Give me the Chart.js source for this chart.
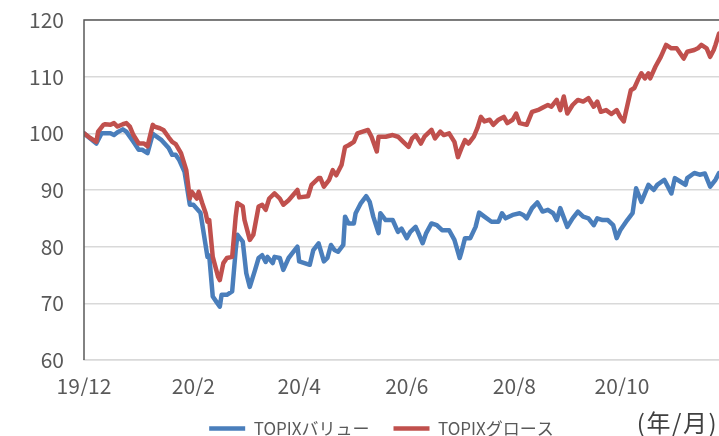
<!DOCTYPE html>
<html>
<head>
<meta charset="utf-8">
<script src="https://cdn.jsdelivr.net/npm/chart.js@4/dist/chart.umd.min.js"></script>
<style>
  html, body { margin:0; padding:0; background:#fff; }
  #wrap { width:719px; height:436px; }
</style>
</head>
<body>
<div id="wrap"><canvas id="chart"></canvas></div>
<script>
// days counted from 2019/12/01
const valueDays = [0,3,7,10,12,15,17,19,22,24, 28,31,33,36,39,44,48,50,52,54,
  57,60,62,66,70,71,73,75,77,78, 81,84,86,87,90,92,94,97,99,101,
  103,104,107,108,111,113,116,118,121,122, 128,130,133,136,138,140,142,144,147,148,
  150,153,154,157,160,162,164,167,168,171, 175,178,180,183,185,188,190,192,194,197,
  200,203,207,210,213,214,216,219,222,224, 227,231,235,237,239,243,247,249,251,254,
  257,260,263,266,268,270,274,277,280,283, 286,289,291,294,297,300,302,304,308,311,
  313,316,318,320,323,325,329,333,335,338, 341,342,346,349,352,355,358,360];
const valueIdx = [100.0,99.2,98.2,100.0,100.0,100.0,99.7,100.2,100.7,100.3,
  98.5,97.1,97.1,96.5,99.9,98.8,97.4,96.2,96.2,95.3,
  93.2,87.4,87.4,86.0,78.2,78.4,71.2,70.3,69.4,71.5,
  71.5,72.1,79.4,82.1,80.9,75.3,72.9,75.9,78.0,78.5,
  77.3,78.2,77.1,78.2,78.0,75.9,78.0,78.8,80.0,77.4,
  76.8,79.4,80.6,77.4,78.0,80.3,79.4,79.1,80.3,85.3,
  84.1,84.1,85.9,87.7,88.9,87.9,85.3,82.4,85.9,84.7,
  84.7,82.6,83.2,81.5,82.6,83.5,82.1,80.6,82.4,84.1,
  83.8,82.9,82.9,81.2,78.0,79.1,81.5,81.5,83.5,86.0,
  85.3,84.4,84.4,85.9,85.0,85.6,85.9,85.6,85.0,86.8,
  87.8,86.2,86.5,85.9,84.7,86.8,83.5,85.0,86.2,85.3,
  85.0,83.8,85.0,84.7,84.7,83.8,81.5,82.9,84.7,85.9,
  90.3,87.9,89.4,90.9,90.0,90.9,91.8,89.4,92.1,91.5,
  90.9,92.1,93.0,92.7,92.9,90.6,91.8,93.0];

const growthDays = [0,3,7,8,11,12,15,17,19,22, 24,26,28,31,34,36,39,40,43,45,
  48,50,52,55,58,60,61,64,65,67, 69,70,71,73,76,77,79,81,84,86,
  87,90,91,94,96,99,101,103,105,108, 111,113,116,121,122,127,129,133,134,136,
  139,141,143,146,148,150,153,155,158,161, 163,166,167,171,175,178,181,184,186,188,
  191,193,197,199,202,204,207,210,212,214, 216,218,221,223,225,227,230,232,235,238,
  240,243,245,247,251,254,258,261,263,265, 268,270,272,274,277,280,283,286,289,291,
  293,296,299,302,304,306,307,310,312,314, 316,318,320,321,324,327,330,333,336,340,
  342,346,348,350,353,355,357,358,360];
const growthIdx = [100.0,99.3,98.5,100.3,101.5,101.6,101.5,101.8,101.2,101.6,
  101.8,101.2,99.7,98.2,98.2,97.7,101.5,101.2,100.9,100.6,
  99.3,98.5,98.1,96.5,93.5,88.5,89.7,88.5,89.7,87.7,
  85.9,84.4,84.7,78.2,74.7,74.1,77.1,78.0,78.2,85.3,
  87.7,87.1,84.7,81.2,82.1,87.1,87.4,86.5,88.5,89.4,
  88.5,87.4,88.2,90.0,88.7,88.9,90.9,92.1,92.1,90.6,
  91.8,93.5,92.6,94.4,97.6,97.9,98.5,100.0,100.3,100.6,
  99.4,96.8,99.4,99.4,99.7,99.4,98.5,97.6,99.1,99.7,
  98.2,99.4,100.6,99.1,100.3,99.7,100.0,98.5,95.8,97.4,
  98.8,98.2,99.4,100.9,102.9,102.1,102.4,101.5,102.4,102.9,
  101.8,102.4,103.5,101.8,101.5,103.8,104.2,104.7,105.0,104.7,
  105.9,104.1,106.5,103.5,105.0,105.9,105.6,106.2,104.7,105.6,
  103.8,104.1,103.4,104.1,102.9,102.1,103.5,107.6,108.0,109.4,
  110.6,109.7,110.6,109.7,111.8,113.5,115.6,115.0,115.0,113.2,
  114.4,114.7,115.0,115.6,115.0,113.5,114.7,115.6,117.6];

const tickDays = [0, 62, 122, 183, 244, 305];
const tickLabels = ['19/12', '20/2', '20/4', '20/6', '20/8', '20/10'];
const seriesNames = ['TOPIXバリュー', 'TOPIXグロース'];
const unitLabel = '(年/月)';

const FONT = "'Noto Sans CJK JP', 'Noto Sans', sans-serif";
const TEXT = '#595959';

const pts = (xs, ys) => xs.map((d, i) => ({ x: d, y: ys[i] }));

const framePlugin = {
    id: 'frame',
    afterLayout(chart) {
        // legend sits a bit right of the canvas centre
        chart.legend.left += 22;
        chart.legend.right += 22;
    },
    afterDatasetsDraw(chart) {
        const { ctx, chartArea: a } = chart;
        ctx.save();
        ctx.strokeStyle = '#595959';
        ctx.lineWidth = 1.5;
        ctx.beginPath();
        ctx.moveTo(a.left, a.bottom);
        ctx.lineTo(a.left, a.top);
        ctx.lineTo(a.right, a.top);
        ctx.stroke();
        ctx.restore();
    },
    afterDraw(chart) {
        const { ctx } = chart;
        ctx.save();
        ctx.fillStyle = '#404040';
        ctx.font = '24px ' + FONT;
        ctx.letterSpacing = '1.5px';
        ctx.textAlign = 'right';
        ctx.textBaseline = 'middle';
        ctx.fillText(unitLabel, 718, 423);
        ctx.restore();
    }
};

new Chart(document.getElementById('chart'), {
    type: 'line',
    data: {
        datasets: [
            { label: seriesNames[0], data: pts(valueDays, valueIdx), borderColor: '#4a7ebb', backgroundColor: '#4a7ebb', borderWidth: 4.5, order: 1 },
            { label: seriesNames[1], data: pts(growthDays, growthIdx), borderColor: '#c0504d', backgroundColor: '#c0504d', borderWidth: 4.5, order: 0 }
        ]
    },
    options: {
        responsive: true,
        maintainAspectRatio: false,
        animation: false,
        devicePixelRatio: 1,
        layout: { padding: { left: 0, right: 0, top: 20, bottom: 0 } },
        elements: {
            point: { radius: 0 },
            line: { tension: 0, borderJoinStyle: 'round', borderCapStyle: 'round' }
        },
        scales: {
            x: {
                type: 'linear', min: 0, max: 360,
                afterBuildTicks: s => { s.ticks = tickDays.map(v => ({ value: v })); },
                afterFit: s => { s.height = 36; },
                ticks: {
                    autoSkip: false, maxRotation: 0, padding: 13,
                    color: TEXT, font: { family: FONT, size: 21 },
                    callback: (v) => tickLabels[tickDays.indexOf(v)]
                },
                grid: { display: false, drawTicks: false },
                border: { color: '#d9d9d9', width: 1.5 }
            },
            y: {
                min: 60, max: 120,
                afterFit: s => { s.width = 84; s.paddingTop = 0; s.paddingBottom = 0; },
                ticks: { stepSize: 10, padding: 20, color: TEXT, font: { family: FONT, size: 21 } },
                grid: { color: '#d9d9d9', lineWidth: 1.5, drawTicks: false },
                border: { display: false }
            }
        },
        plugins: {
            tooltip: { enabled: false },
            legend: {
                position: 'bottom',
                maxHeight: 40,
                labels: {
                    usePointStyle: true, pointStyle: 'line', pointStyleWidth: 36,
                    boxHeight: 4, padding: 24,
                    color: TEXT, font: { family: FONT, size: 17 },
                    sort: (a, b) => a.datasetIndex - b.datasetIndex
                }
            }
        }
    },
    plugins: [framePlugin]
});
</script>
</body>
</html>
